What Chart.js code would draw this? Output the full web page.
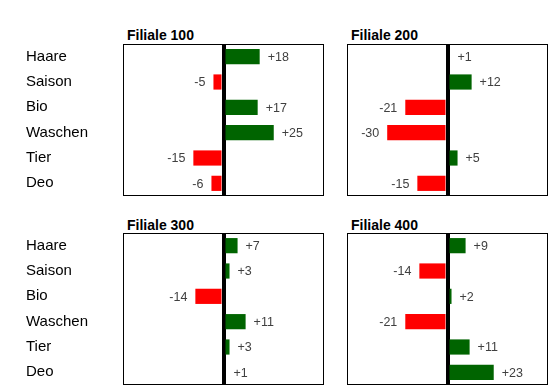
<!DOCTYPE html>
<html>
<head>
<meta charset="utf-8">
<script src="https://cdn.jsdelivr.net/npm/chart.js@4"></script>
<style>
  html, body { margin: 0; padding: 0; background: #fff; }
  body { width: 558px; height: 389px; position: relative; overflow: hidden; font-family: "Liberation Sans", Arial, sans-serif; }
  .panel { position: absolute; }
  .title { position: absolute; font-weight: bold; font-size: 14px; line-height: 16px; color: #000; }
</style>
</head>
<body>
<div class="title" style="left:127px;top:27px">Filiale 100</div>
<div class="title" style="left:351px;top:27px">Filiale 200</div>
<div class="title" style="left:127px;top:217px">Filiale 300</div>
<div class="title" style="left:351px;top:217px">Filiale 400</div>

<div class="panel" style="left:0;top:40px;width:330px;height:158px"><canvas id="c100"></canvas></div>
<div class="panel" style="left:340px;top:40px;width:218px;height:158px"><canvas id="c200"></canvas></div>
<div class="panel" style="left:0;top:229px;width:330px;height:158px"><canvas id="c300"></canvas></div>
<div class="panel" style="left:340px;top:229px;width:218px;height:158px"><canvas id="c400"></canvas></div>

<script>
// categories and change per branch
const categories = ['Haare', 'Saison', 'Bio', 'Waschen', 'Tier', 'Deo']
const filiale100 = [18, -5, 17, 25, -15, -6]
const filiale200 = [1, 12, -21, -30, 5, -15]
const filiale300 = [7, 3, -14, 11, 3, 1]
const filiale400 = [9, -14, 2, -21, 11, 23]

const green = '#006400'
const red = '#ff0000'

// value labels next to the bars + box around plot
const barLabels = {
  id: 'barLabels',
  afterDatasetsDraw(chart) {
    const ctx = chart.ctx
    const values = chart.data.datasets[0].data
    const meta = chart.getDatasetMeta(0)
    ctx.save()
    ctx.font = '12.5px "Liberation Sans", Arial, sans-serif'
    ctx.fillStyle = '#404040'
    ctx.textBaseline = 'middle'
    meta.data.forEach((bar, i) => {
      const v = values[i]
      if (v >= 0) {
        ctx.textAlign = 'left'
        ctx.fillText('+' + v, bar.x + 8, bar.y + 1)
      } else {
        ctx.textAlign = 'right'
        ctx.fillText(String(v), bar.x - 8, bar.y + 1)
      }
    })
    ctx.restore()
  },
  afterDraw(chart) {
    const a = chart.chartArea
    const ctx = chart.ctx
    ctx.save()
    ctx.strokeStyle = '#000'
    ctx.lineWidth = 1
    ctx.strokeRect(Math.round(a.left) + 0.5, Math.round(a.top) + 0.5, Math.round(a.right - a.left) - 1, Math.round(a.bottom - a.top) - 1)
    ctx.restore()
  }
}

function buildPanel(id, values, showLabels) {
  const padding = showLabels
    ? { left: 26, right: 6, top: 4, bottom: 2 }
    : { left: 7, right: 10, top: 4, bottom: 2 }
  return new Chart(document.getElementById(id), {
    type: 'bar',
    data: {
      labels: categories,
      datasets: [{
        data: values,
        backgroundColor: values.map(v => v >= 0 ? green : red),
        borderWidth: 0,
        categoryPercentage: 1,
        barPercentage: 0.6
      }]
    },
    options: {
      indexAxis: 'y',
      responsive: true,
      maintainAspectRatio: false,
      animation: false,
      layout: { padding: padding, autoPadding: false },
      plugins: {
        legend: { display: false },
        tooltip: { enabled: false }
      },
      scales: {
        x: {
          min: -50,
          max: 50,
          z: 1,
          ticks: { display: false, stepSize: 10 },
          border: { display: false },
          grid: {
            drawTicks: false,
            color: c => c.tick && c.tick.value === 0 ? '#000' : 'rgba(0,0,0,0)',
            lineWidth: c => c.tick && c.tick.value === 0 ? 4 : 0
          }
        },
        y: {
          display: showLabels,
          grid: { display: false },
          border: { display: false },
          ticks: {
            crossAlign: 'far',
            color: '#000',
            font: { family: '"Liberation Sans", Arial, sans-serif', size: 15 }
          },
          afterFit(scale) {
            if (showLabels) scale.width = 97
            scale.paddingTop = 0
            scale.paddingBottom = 0
          }
        }
      }
    },
    plugins: [barLabels]
  })
}

buildPanel('c100', filiale100, true)
buildPanel('c200', filiale200, false)
buildPanel('c300', filiale300, true)
buildPanel('c400', filiale400, false)
</script>
</body>
</html>
